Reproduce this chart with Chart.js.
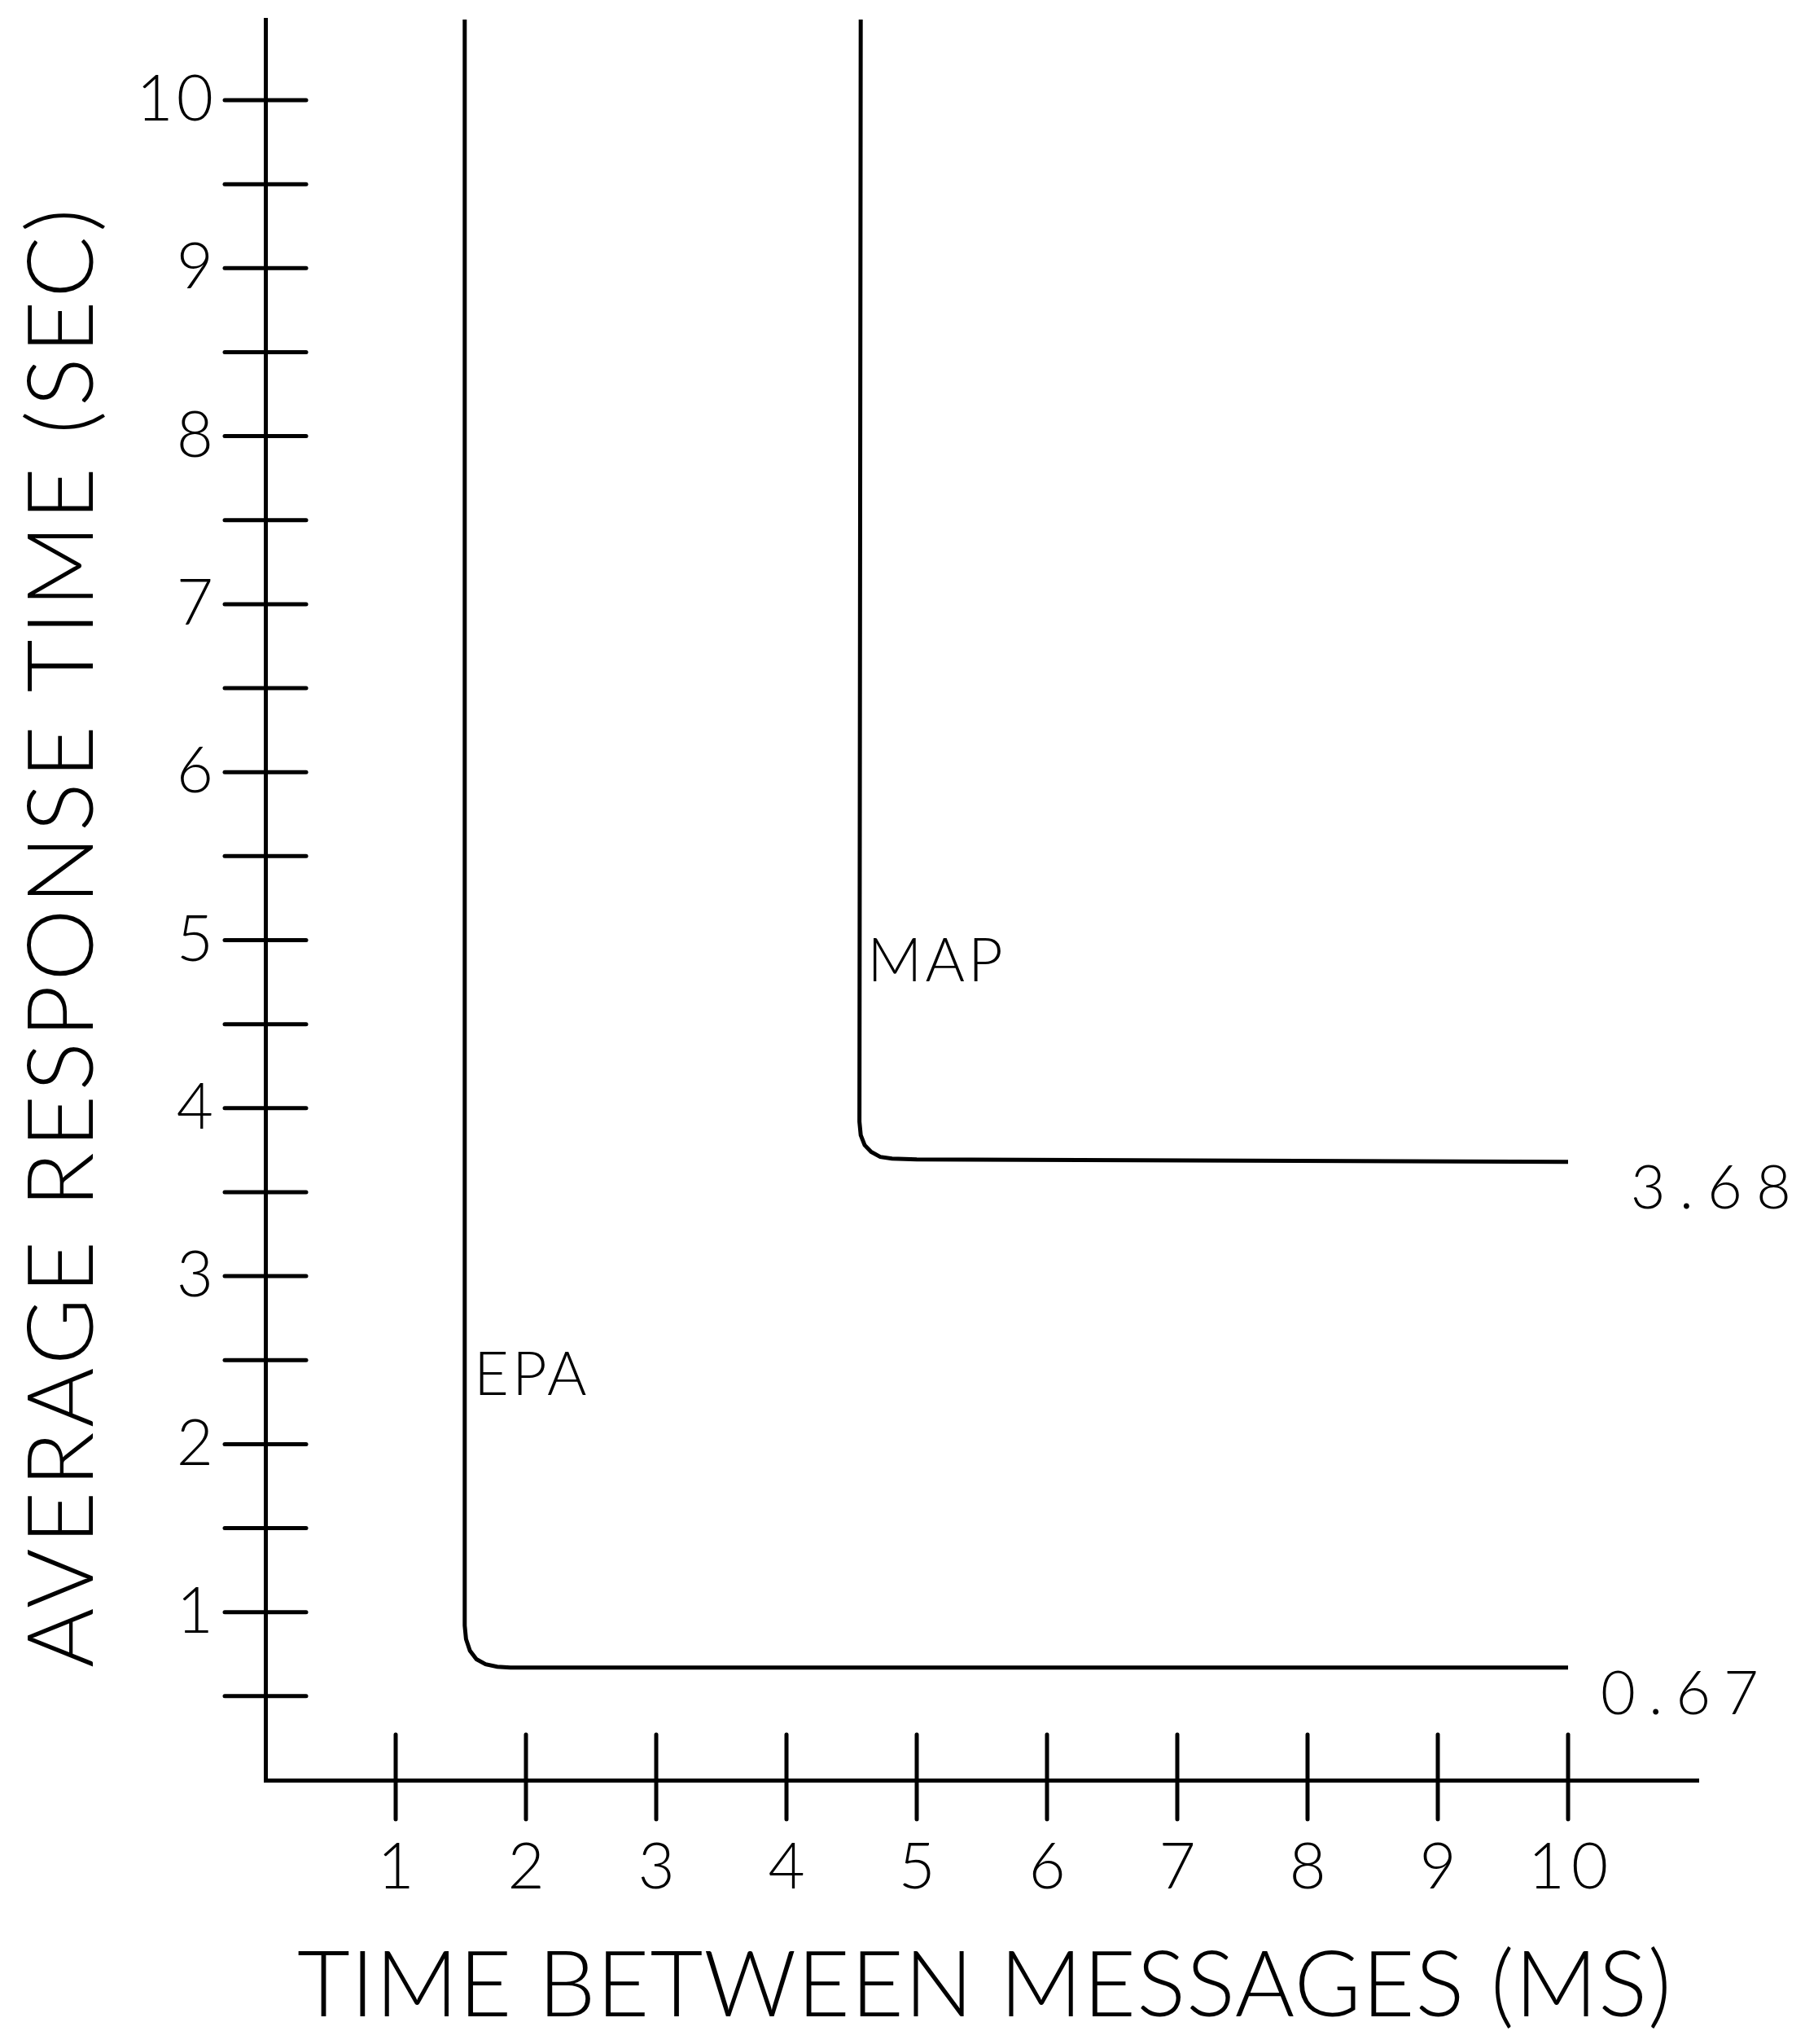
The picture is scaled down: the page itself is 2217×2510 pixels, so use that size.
<!DOCTYPE html>
<html>
<head>
<meta charset="utf-8">
<script src="https://cdn.jsdelivr.net/npm/chart.js@4/dist/chart.umd.min.js"></script>
<style>
  html, body { margin: 0; padding: 0; background: #fff; }
  #wrap { width: 2217px; height: 2510px; }
</style>
</head>
<body>
<div id="wrap"><canvas id="chart" width="2217" height="2510"></canvas></div>
<script>
// Curves (x = time between messages in ms, y = response time in s)
const epaX = [1.53, 1.53, 1.54, 1.57, 1.62, 1.69, 1.78, 1.88, 10];
const epaY = [10.5, 0.92, 0.84, 0.77, 0.72, 0.69, 0.675, 0.67, 0.67];
const mapX = [4.57, 4.56, 4.57, 4.60, 4.65, 4.72, 4.81, 5.0, 10];
const mapY = [10.5, 3.92, 3.84, 3.78, 3.74, 3.71, 3.70, 3.695, 3.68];

const xTicks = [1, 2, 3, 4, 5, 6, 7, 8, 9, 10];
const yTicks = [0.5, 1, 1.5, 2, 2.5, 3, 3.5, 4, 4.5, 5, 5.5, 6, 6.5, 7, 7.5, 8, 8.5, 9, 9.5, 10];

const xTitle = 'TIME BETWEEN MESSAGES (MS)';
const yTitle = 'AVERAGE RESPONSE TIME (SEC)';

// labels placed next to the curves: [text, x, y, spacing]
const notes = [
  ['EPA', 1.6, 2.41, 4],
  ['MAP', 4.62, 4.87, 4],
  ['3.68', 10.48, 3.52, 17],
  ['0.67', 10.25, 0.51, 16]
];

const FONT = '"DejaVu Sans ExtraLight", "Lato Light", Lato, "DejaVu Sans", sans-serif';
const INK = '#000';

function pts(xs, ys) {
  return xs.map((x, i) => ({ x, y: ys[i] }));
}

// text with letter spacing stretched so it fills the given width
function spacedText(ctx, text, cx, cy, width) {
  ctx.letterSpacing = '0px';
  const w = ctx.measureText(text).width;
  const sp = (width - w) / (text.length - 1);
  ctx.letterSpacing = sp + 'px';
  const w2 = ctx.measureText(text).width - sp;
  ctx.textAlign = 'left';
  ctx.fillText(text, cx - w2 / 2, cy);
  ctx.letterSpacing = '0px';
}

const plotterAxes = {
  id: 'plotterAxes',
  afterDraw(chart) {
    const ctx = chart.ctx;
    const xs = chart.scales.x, ys = chart.scales.y;
    const x0 = xs.getPixelForValue(0);
    const y0 = ys.getPixelForValue(0);
    ctx.save();
    ctx.strokeStyle = INK;
    ctx.fillStyle = INK;
    ctx.lineWidth = 5;
    ctx.lineCap = 'round';

    // tick marks crossing the axes
    yTicks.forEach(v => {
      const py = ys.getPixelForValue(v);
      ctx.beginPath();
      ctx.moveTo(x0 - 50, py);
      ctx.lineTo(x0 + 50, py);
      ctx.stroke();
    });
    xTicks.forEach(v => {
      const px = xs.getPixelForValue(v);
      ctx.beginPath();
      ctx.moveTo(px, y0 - 56);
      ctx.lineTo(px, y0 + 48);
      ctx.stroke();
    });

    // tick labels
    ctx.font = '300 78px ' + FONT;
    ctx.textBaseline = 'middle';
    ctx.textAlign = 'right';
    ctx.letterSpacing = '4px';
    yTicks.filter(v => Number.isInteger(v)).forEach(v => {
      ctx.fillText(String(v), x0 - 60, ys.getPixelForValue(v));
    });
    ctx.letterSpacing = '8px';
    xTicks.forEach(v => {
      const s = String(v);
      const w = ctx.measureText(s).width - 8;
      ctx.textAlign = 'left';
      ctx.fillText(s, xs.getPixelForValue(v) - w / 2, y0 + 108);
    });
    ctx.letterSpacing = '0px';

    // curve labels
    ctx.font = '300 74px ' + FONT;
    ctx.textAlign = 'left';
    notes.forEach(([t, x, y, sp]) => {
      ctx.letterSpacing = sp + 'px';
      ctx.fillText(t, xs.getPixelForValue(x), ys.getPixelForValue(y));
    });
    ctx.letterSpacing = '0px';

    // axis titles
    ctx.font = '300 112px ' + FONT;
    ctx.textBaseline = 'middle';
    spacedText(ctx, xTitle, 1209, 2440, 1688);
    ctx.translate(78, 1152);
    ctx.rotate(-Math.PI / 2);
    spacedText(ctx, yTitle, 0, 0, 1792);
    ctx.restore();
  }
};

new Chart(document.getElementById('chart'), {
  type: 'line',
  data: {
    datasets: [
      { label: 'EPA', data: pts(epaX, epaY) },
      { label: 'MAP', data: pts(mapX, mapY) }
    ]
  },
  options: {
    responsive: false,
    animation: false,
    devicePixelRatio: 1,
    layout: { padding: { left: 326, right: 131, top: 24, bottom: 324 } },
    elements: {
      line: { borderColor: INK, borderWidth: 5, tension: 0, fill: false },
      point: { radius: 0 }
    },
    plugins: { legend: { display: false }, tooltip: { enabled: false } },
    scales: {
      x: {
        type: 'linear', min: 0, max: 11,
        grid: { display: false, drawTicks: false },
        ticks: { display: false },
        border: { display: true, color: INK, width: 5 }
      },
      y: {
        type: 'linear', min: 0, max: 10.48,
        grid: { display: false, drawTicks: false },
        ticks: { display: false },
        border: { display: true, color: INK, width: 5 }
      }
    }
  },
  plugins: [plotterAxes]
});
</script>
</body>
</html>
